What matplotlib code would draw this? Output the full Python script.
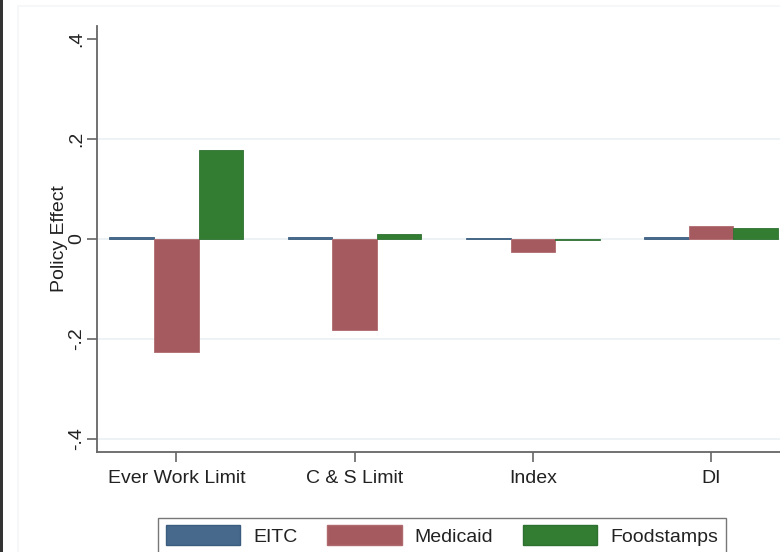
import matplotlib
matplotlib.use("Agg")
import matplotlib.pyplot as plt
import matplotlib.patches as mpatches
import numpy as np

plt.rcParams["font.family"] = ["Liberation Sans", "DejaVu Sans"]

# data
categories = ["Ever Work Limit", "C & S Limit", "Index", "DI"]
series = ["EITC", "Medicaid", "Foodstamps"]
eitc = [0.004, 0.004, 0.002, 0.005]
medicaid = [-0.226, -0.182, -0.026, 0.026]
foodstamps = [0.178, 0.010, -0.002, 0.022]
yticks = [-0.4, -0.2, 0, 0.2, 0.4]
ytick_labels = ["-.4", "-.2", "0", ".2", ".4"]
grid_lines = [-0.4, -0.2, 0, 0.2]

colors = ["#46698c", "#a55a5f", "#327d32"]
edge_colors = ["#3a5c7e", "#b06a6e", "#2d7030"]

fig = plt.figure(figsize=(7.8, 5.52), dpi=100)

# faint outer graph region like Stata
fig.patches.append(mpatches.Rectangle((18 / 780, -0.1), 1, 1 - 6 / 552 + 0.1,
                                      transform=fig.transFigure, facecolor="none",
                                      edgecolor="#f4f6f7", linewidth=1.2))

ax = fig.add_axes([97 / 780, 100 / 552, 1 - 97 / 780 + 0.01, 426 / 552])

x = np.arange(len(categories))
width = 0.25
for i, (name, vals) in enumerate(zip(series, [eitc, medicaid, foodstamps])):
    ax.bar(x + (i - 1) * width, vals, width, color=colors[i],
           edgecolor=edge_colors[i], linewidth=0.6, label=name, zorder=3)

ax.set_xlim(-0.445, 3.43)
ax.set_ylim(-0.426, 0.426)
ax.set_yticks(yticks)
ax.set_yticklabels(ytick_labels, rotation=90, va="center", fontsize=14, color="#222222")
ax.set_xticks(x)
ax.set_xticklabels(categories, fontsize=14, color="#222222")
ax.set_ylabel("Policy Effect", fontsize=14, color="#222222", labelpad=0)

for y in grid_lines:
    ax.axhline(y, color="#eaf0f3", linewidth=1.2, zorder=1)

for s in ["top", "right"]:
    ax.spines[s].set_visible(False)
for s in ["left", "bottom"]:
    ax.spines[s].set_color("#666666")
    ax.spines[s].set_linewidth(1.3)
ax.tick_params(axis="both", length=7, width=1.2, color="#666666")
ax.tick_params(axis="x", pad=6)
ax.tick_params(axis="y", pad=1.5)

handles = [mpatches.Patch(facecolor=colors[i], edgecolor=edge_colors[i], label=series[i])
           for i in range(3)]
leg = fig.legend(handles=handles, ncol=3, loc="upper center",
                 bbox_to_anchor=(442 / 780, 34.5 / 552), fontsize=14,
                 handlelength=3.85, handleheight=1.2, columnspacing=1.5,
                 handletextpad=0.67, frameon=True, fancybox=False,
                 borderpad=0.4, borderaxespad=0)
leg.get_frame().set_edgecolor("#555555")
leg.get_frame().set_linewidth(1.0)
for t in leg.get_texts():
    t.set_color("#222222")

# dark strip on the left edge as in the screenshot
fig.patches.append(mpatches.Rectangle((0, 0), 3 / 780, 1, transform=fig.transFigure,
                                      facecolor="#333333", edgecolor="none"))

fig.savefig("out.png", dpi=100)
